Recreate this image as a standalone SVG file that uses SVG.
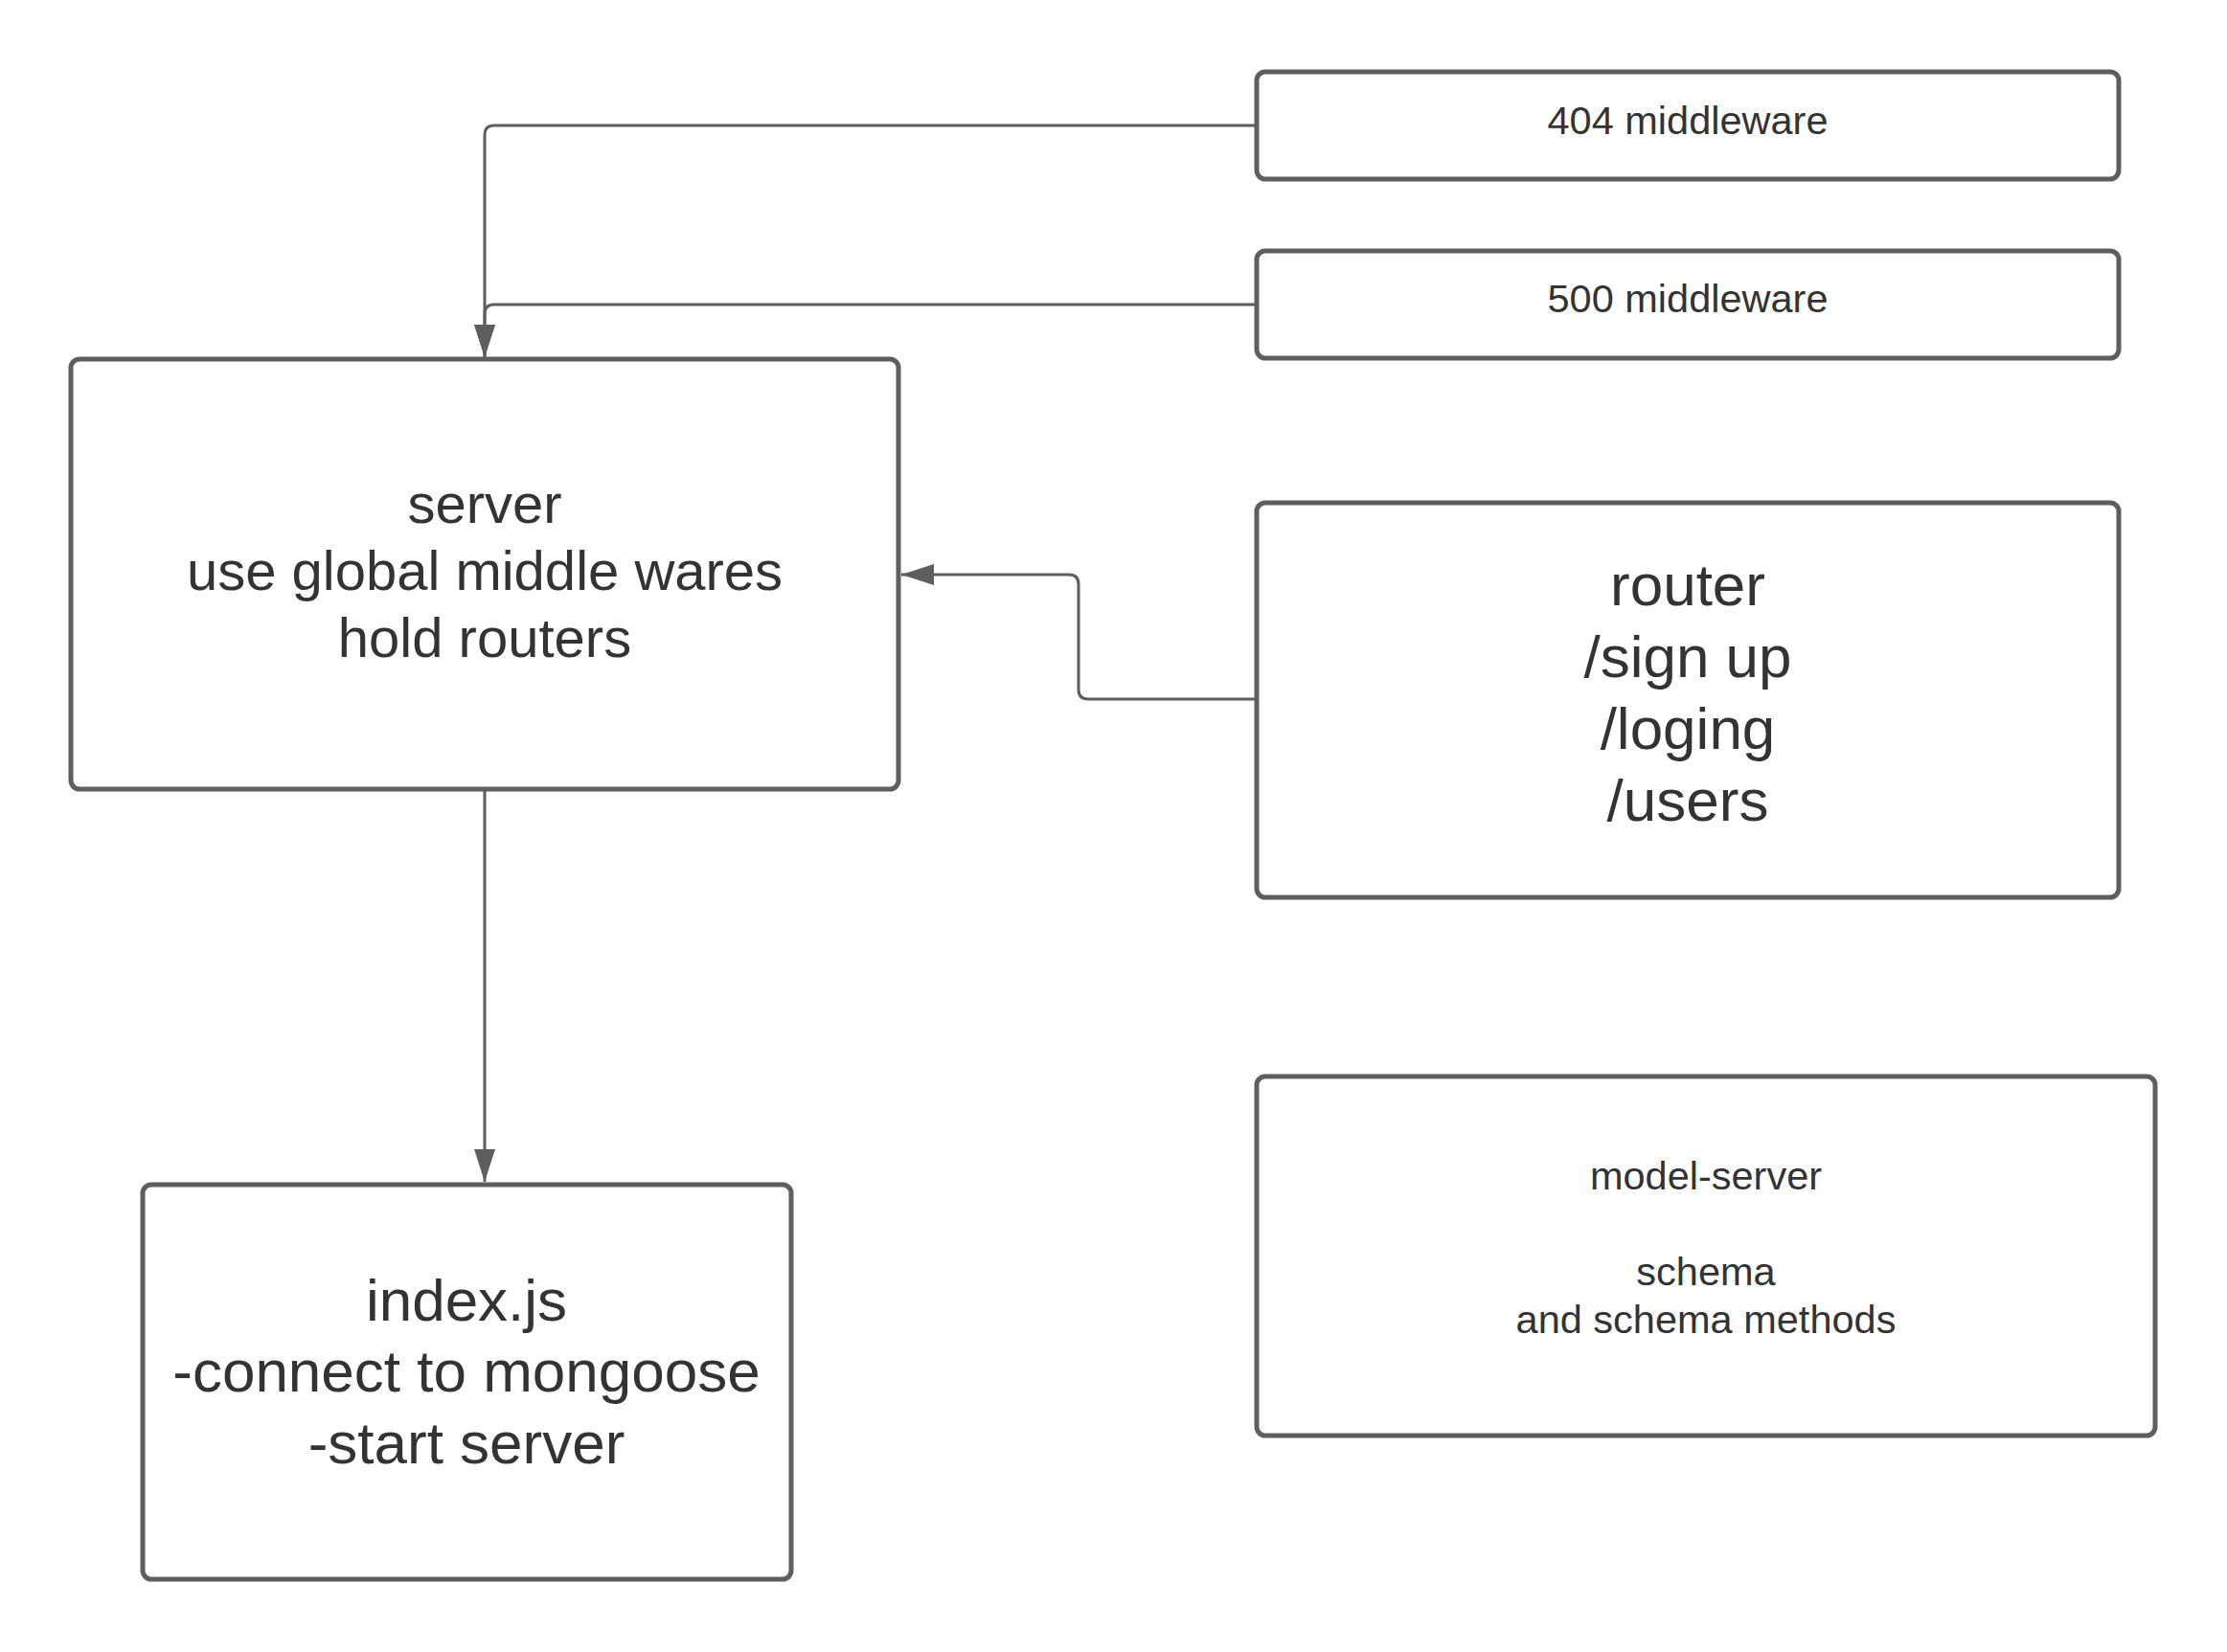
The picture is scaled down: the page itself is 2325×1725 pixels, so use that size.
<svg xmlns="http://www.w3.org/2000/svg" width="2325" height="1725" viewBox="0 0 2325 1725">
<style>
.box{fill:#fff;stroke:#5e5e5e;stroke-width:5}
.conn{fill:none;stroke:#5e5e5e;stroke-width:3}
text{font-family:"Liberation Sans",Arial,sans-serif;fill:#333;text-anchor:middle}
.s40{font-size:41.5px}
.s58{font-size:58px}
.s62{font-size:62px}
</style>
<defs>
<marker id="arr" markerUnits="userSpaceOnUse" markerWidth="36" markerHeight="24" refX="34" refY="11" orient="auto">
<path d="M0,0 L34,11 L0,22 Z" fill="#5e5e5e"/>
</marker>
</defs>
<rect width="2325" height="1725" fill="#fff"/>
<g id="connectors">
<path class="conn" d="M1312,131 H516 Q506,131 506,141 V373" marker-end="url(#arr)"/>
<path class="conn" d="M1312,318 H516 Q506,318 506,328 V373" marker-end="url(#arr)"/>
<path class="conn" d="M506,826 V1234" marker-end="url(#arr)"/>
<path class="conn" d="M1312,730 H1136 Q1126,730 1126,720 V610 Q1126,600 1116,600 H941" marker-end="url(#arr)"/>
</g>
<g id="node-404">
<rect class="box" x="1312" y="75" width="900" height="112" rx="9"/>
<text class="s40" x="1762" y="140">404 middleware</text>
</g>
<g id="node-500">
<rect class="box" x="1312" y="262" width="900" height="112" rx="9"/>
<text class="s40" x="1762" y="326">500 middleware</text>
</g>
<g id="node-server">
<rect class="box" x="74" y="375" width="864" height="449" rx="9"/>
<text class="s58" x="506" y="546">server</text>
<text class="s58" x="506" y="616">use global middle wares</text>
<text class="s58" x="506" y="686">hold routers</text>
</g>
<g id="node-router">
<rect class="box" x="1312" y="525" width="900" height="412" rx="9"/>
<text class="s62" x="1762" y="632">router</text>
<text class="s62" x="1762" y="707">/sign up</text>
<text class="s62" x="1762" y="782">/loging</text>
<text class="s62" x="1762" y="857">/users</text>
</g>
<g id="node-index">
<rect class="box" x="149" y="1237" width="677" height="412" rx="9"/>
<text class="s62" x="487" y="1379">index.js</text>
<text class="s62" x="487" y="1453">-connect to mongoose</text>
<text class="s62" x="487" y="1528">-start server</text>
</g>
<g id="node-model">
<rect class="box" x="1312" y="1124" width="938" height="375" rx="9"/>
<text class="s40" x="1781" y="1242">model-server</text>
<text class="s40" x="1781" y="1342">schema</text>
<text class="s40" x="1781" y="1392">and schema methods</text>
</g>
</svg>
